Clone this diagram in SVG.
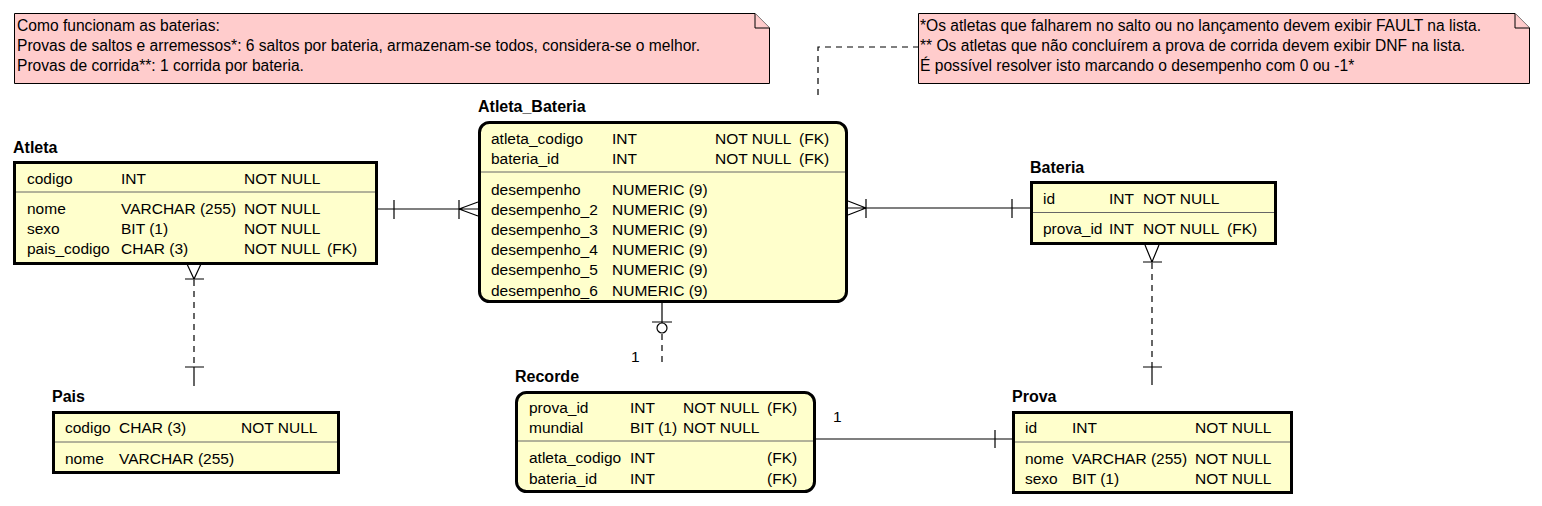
<svg xmlns="http://www.w3.org/2000/svg" width="1542" height="506" viewBox="0 0 1542 506">
<style>
text{font-family:"Liberation Sans",Arial,sans-serif;font-size:15.5px;fill:#000}
.t{font-weight:bold;font-size:16px}
.n{font-size:15.6px}
.ent{fill:#ffffcc;stroke:#000;stroke-width:3}
.sep{stroke:#666;stroke-width:1}
.note{fill:#ffcccc;stroke:#000;stroke-width:1}
.c{stroke:#000;stroke-width:1.2;fill:none}
.d{stroke:#000;stroke-width:1.2;fill:none;stroke-dasharray:6 5}
</style>
<rect width="1542" height="506" fill="#fff"/>

<g id="note1">
<path class="note" d="M14.5,13.5 H755 L769.5,28 V83.5 H14.5 Z"/>
<path class="note" d="M755,13.5 V28 H769.5" fill="none"/>
<text class="n" x="17" y="31">Como funcionam as baterias:</text>
<text class="n" x="17" y="51">Provas de saltos e arremessos*: 6 saltos por bateria, armazenam-se todos, considera-se o melhor.</text>
<text class="n" x="17" y="71">Provas de corrida**: 1 corrida por bateria.</text>
</g>

<g id="note2">
<path class="note" d="M918.5,13.5 H1515 L1529.5,28 V83.5 H918.5 Z"/>
<path class="note" d="M1515,13.5 V28 H1529.5" fill="none"/>
<text class="n" x="920" y="31">*Os atletas que falharem no salto ou no lançamento devem exibir FAULT na lista.</text>
<text class="n" x="920" y="51">** Os atletas que não concluírem a prova de corrida devem exibir DNF na lista.</text>
<text class="n" x="920" y="71">É possível resolver isto marcando o desempenho com 0 ou -1*</text>
</g>

<g id="atleta">
<text class="t" x="13" y="153">Atleta</text>
<rect class="ent" x="14.5" y="162.5" width="362" height="101"/>
<line class="sep" x1="16" y1="192" x2="375" y2="192"/>
<text x="27" y="184">codigo</text><text x="121" y="184">INT</text><text x="244" y="184">NOT NULL</text>
<text x="27" y="214">nome</text><text x="121" y="214">VARCHAR (255)</text><text x="244" y="214">NOT NULL</text>
<text x="27" y="234">sexo</text><text x="121" y="234">BIT (1)</text><text x="244" y="234">NOT NULL</text>
<text x="27" y="254">pais_codigo</text><text x="121" y="254">CHAR (3)</text><text x="244" y="254">NOT NULL</text><text x="327" y="254">(FK)</text>
</g>

<g id="atleta_bateria">
<text class="t" x="478" y="112">Atleta_Bateria</text>
<rect class="ent" x="479.5" y="122.5" width="367" height="179" rx="10"/>
<line class="sep" x1="481" y1="172" x2="845" y2="172"/>
<text x="491" y="144">atleta_codigo</text><text x="612" y="144">INT</text><text x="715" y="144">NOT NULL</text><text x="799" y="144">(FK)</text>
<text x="491" y="164">bateria_id</text><text x="612" y="164">INT</text><text x="715" y="164">NOT NULL</text><text x="799" y="164">(FK)</text>
<text x="491" y="195">desempenho</text><text x="612" y="195">NUMERIC (9)</text>
<text x="491" y="215">desempenho_2</text><text x="612" y="215">NUMERIC (9)</text>
<text x="491" y="235">desempenho_3</text><text x="612" y="235">NUMERIC (9)</text>
<text x="491" y="255">desempenho_4</text><text x="612" y="255">NUMERIC (9)</text>
<text x="491" y="275">desempenho_5</text><text x="612" y="275">NUMERIC (9)</text>
<text x="491" y="296">desempenho_6</text><text x="612" y="296">NUMERIC (9)</text>
</g>

<g id="bateria">
<text class="t" x="1030" y="173">Bateria</text>
<rect class="ent" x="1031.5" y="182.5" width="244" height="61"/>
<line class="sep" x1="1033" y1="212.5" x2="1274" y2="212.5"/>
<text x="1043" y="204">id</text><text x="1109" y="204">INT</text><text x="1143" y="204">NOT NULL</text>
<text x="1043" y="234">prova_id</text><text x="1109" y="234">INT</text><text x="1143" y="234">NOT NULL</text><text x="1227" y="234">(FK)</text>
</g>

<g id="pais">
<text class="t" x="52" y="402">Pais</text>
<rect class="ent" x="53.5" y="412.5" width="285" height="60"/>
<line class="sep" x1="55" y1="442" x2="337" y2="442"/>
<text x="65" y="433">codigo</text><text x="119" y="433">CHAR (3)</text><text x="241" y="433">NOT NULL</text>
<text x="65" y="464">nome</text><text x="119" y="464">VARCHAR (255)</text>
</g>

<g id="recorde">
<text class="t" x="515" y="382">Recorde</text>
<rect class="ent" x="516.5" y="392.5" width="298" height="99" rx="10"/>
<line class="sep" x1="518" y1="441" x2="813" y2="441"/>
<text x="529" y="413">prova_id</text><text x="630" y="413">INT</text><text x="683" y="413">NOT NULL</text><text x="767" y="413">(FK)</text>
<text x="529" y="433">mundial</text><text x="630" y="433">BIT (1)</text><text x="683" y="433">NOT NULL</text>
<text x="529" y="463">atleta_codigo</text><text x="630" y="463">INT</text><text x="767" y="463">(FK)</text>
<text x="529" y="484">bateria_id</text><text x="630" y="484">INT</text><text x="767" y="484">(FK)</text>
</g>

<g id="prova">
<text class="t" x="1012" y="402">Prova</text>
<rect class="ent" x="1013.5" y="412.5" width="278" height="80"/>
<line class="sep" x1="1015" y1="442" x2="1290" y2="442"/>
<text x="1025" y="433">id</text><text x="1072" y="433">INT</text><text x="1195" y="433">NOT NULL</text>
<text x="1025" y="464">nome</text><text x="1072" y="464">VARCHAR (255)</text><text x="1195" y="464">NOT NULL</text>
<text x="1025" y="484">sexo</text><text x="1072" y="484">BIT (1)</text><text x="1195" y="484">NOT NULL</text>
</g>

<g id="connectors">
<path class="d" d="M818,95 V47 H918"/>
<path class="c" d="M378,209 H478 M394,200 V219 M459,200 V219 M459,209 L478,202 M459,209 L478,216"/>
<path class="c" d="M848,208 H1030 M866,199 V218 M1012,199 V218 M866,208 L848,201 M866,208 L848,215"/>
<path class="c" d="M187,264 L194,279 L201,264 M185,279 H204 M185,367 H204 M194,367 V386"/>
<path class="d" d="M194,280 V367"/>
<path class="c" d="M1145,245 L1152,262 L1159,245 M1143,262 H1162 M1143,367 H1162 M1152,367 V385"/>
<path class="d" d="M1152,263 V367"/>
<path class="c" d="M662,303 V323 M652,322 H672"/>
<circle class="c" cx="662" cy="328" r="5"/>
<path class="d" d="M662,334 V366"/>
<text x="631" y="362">1</text>
<path class="c" d="M816,439 H1012 M995,430 V448"/>
<text x="833" y="422">1</text>
</g>
</svg>
